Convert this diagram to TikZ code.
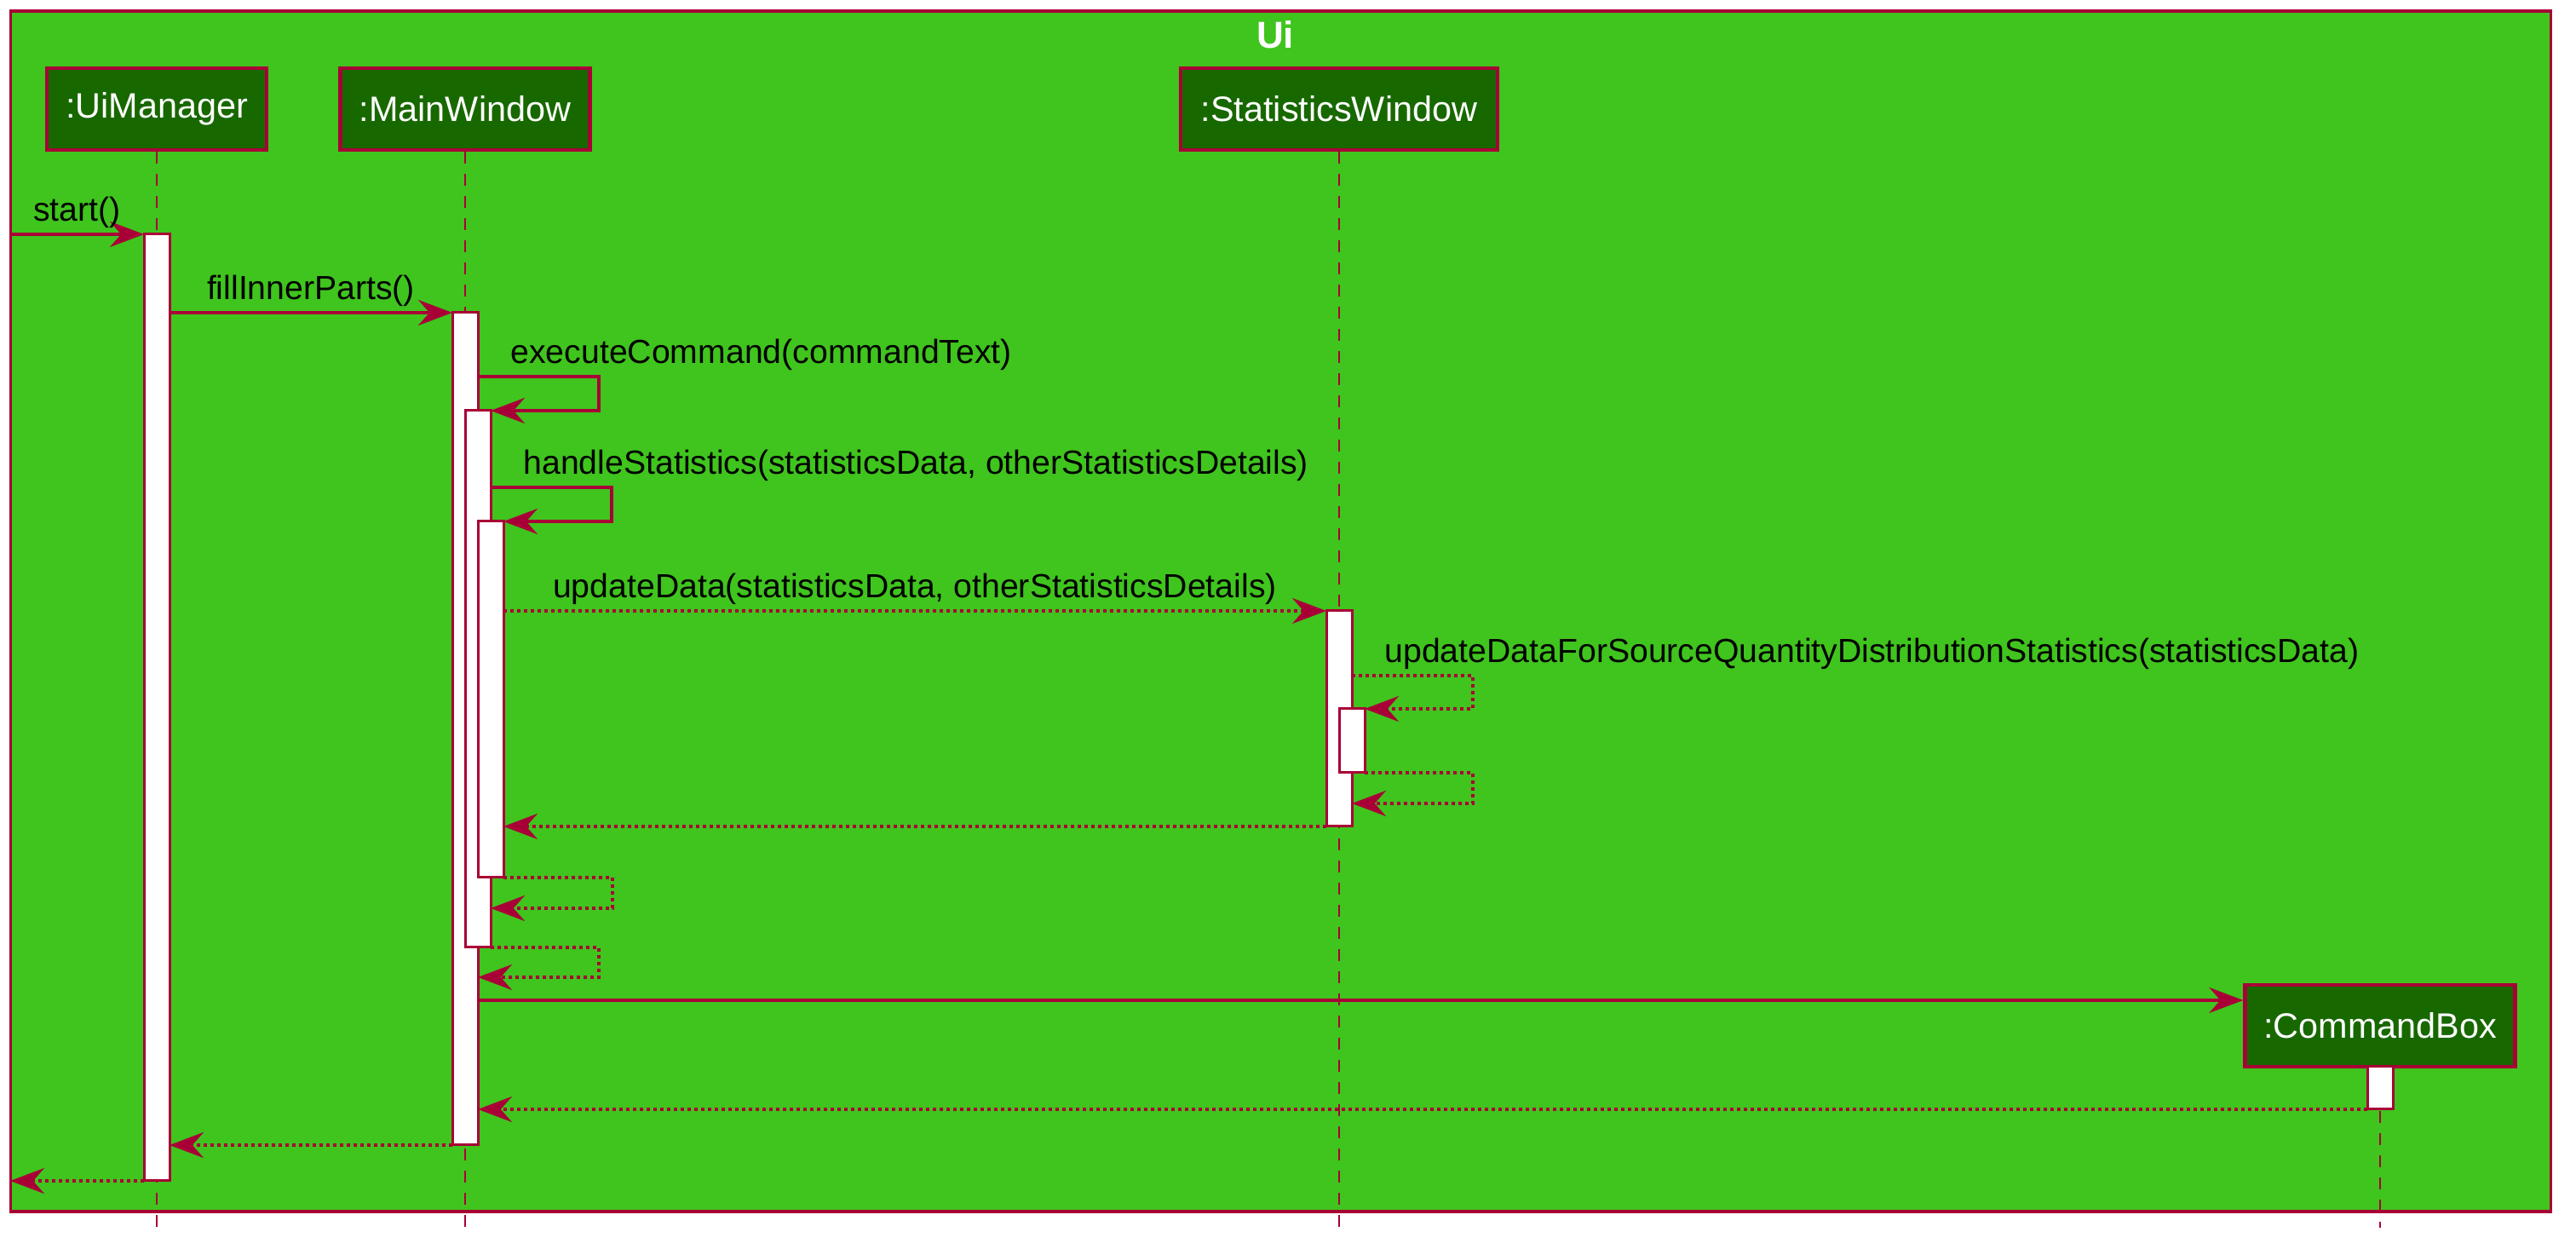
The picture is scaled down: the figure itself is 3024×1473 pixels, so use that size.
\documentclass[tikz,border=0pt]{standalone}
\usepackage{fontspec}
\setmainfont{Liberation Sans}
\usetikzlibrary{arrows.meta}
\definecolor{crim}{HTML}{A80036}
\definecolor{uigreen}{HTML}{40C41E}
\definecolor{pgreen}{HTML}{186800}
\begin{document}
\begin{tikzpicture}[x=0.25pt,y=-0.25pt,
  frm/.style={draw=crim,fill=uigreen,line width=0.8pt},
  part/.style={draw=crim,fill=pgreen,line width=1.1pt,text=white,
    font=\fontsize{10.35}{12}\selectfont,inner sep=0pt,minimum height=24pt},
  act/.style={draw=crim,fill=white,line width=0.75pt,minimum width=7.5pt,inner sep=0pt,outer sep=0pt},
  life/.style={draw=crim,line width=0.55pt,dash pattern=on 3.5pt off 3pt},
  msg/.style={draw=crim,line width=0.8pt,-{Stealth[length=10pt,width=7.5pt,inset=3.3pt]}},
  ret/.style={msg,dash pattern=on 1pt off 1pt},
  lbl/.style={font=\fontsize{9.8}{11}\selectfont,inner sep=0pt,anchor=base,text=black},
  slbl/.style={lbl,anchor=base west,pos=0,xshift=9.25pt,yshift=3.75pt}]
\useasboundingbox (0,0) rectangle (3024,1473);
\fill[white] (0,0) rectangle (3024,1473);
% frame
\node[frm,inner sep=0pt,minimum width=745.5pt,minimum height=352.25pt] (frame) at (1503.5,717.5) {};
\node[text=white,font=\fontsize{11}{13}\selectfont\bfseries,inner sep=0pt,anchor=base] (title) at (1497,57) {Ui};
\coordinate (inL) at (12,275);
\coordinate (outL) at (12,1386);
% participants
\node[part,minimum width=64.5pt] (U) at (184,128) {:UiManager};
\node[part,minimum width=73.25pt] (M) at (546,128) {:MainWindow};
\node[part,minimum width=93pt] (S) at (1572,128) {:StatisticsWindow};
% lifelines
\coordinate (Uend) at (184,1441);
\coordinate (Mend) at (546,1441);
\coordinate (Send) at (1572,1441);
\coordinate (Cend) at (2794,1441);
\draw[life] (U.south) -- (Uend);
\draw[life] (M.south) -- (Mend);
\draw[life] (S.south) -- (Send);
\draw[life] (2794,1252) -- (Cend);
\node[part,minimum width=79.25pt] (C) at (2794,1204) {:CommandBox};
% activations
\node[act,minimum height=277.75pt] (AU) at (184,830.5) {};
\node[act,minimum height=244.25pt] (AM1) at (546,855.5) {};
\node[act,minimum height=157.5pt] (AM2) at (561,797) {};
\node[act,minimum height=104.5pt] (AM3) at (576,821) {};
\node[act,minimum height=63.25pt] (AS1) at (1572,843.5) {};
\node[act,minimum height=18.75pt] (AS2) at (1587,869.5) {};
\node[act,minimum height=12.5pt] (AC) at (2794,1277) {};
% messages
\draw[msg] (inL) -- (AU.north west) node[lbl,midway,yshift=3.75pt] {start()};
\draw[msg] (AU.east |- AM1.north) -- (AM1.north west) node[lbl,midway,yshift=3.75pt] {fillInnerParts()};
\draw[msg] (AM1.east |- 0,442) -- (703,442) node[slbl] {executeCommand(commandText)} |- (AM2.north east);
\draw[msg] (AM2.east |- 0,572) -- (718,572) node[slbl] {handleStatistics(statisticsData, otherStatisticsDetails)} |- (AM3.north east);
\draw[ret] (AM3.east |- AS1.north) -- (AS1.north west) node[lbl,midway,yshift=3.75pt] {updateData(statisticsData, otherStatisticsDetails)};
\draw[ret] (AS1.east |- 0,793) -- (1729,793) node[slbl] {updateDataForSourceQuantityDistributionStatistics(statisticsData)} |- (AS2.north east);
\draw[ret] (AS2.south east) -- (1729,907) |- (AS1.east |- 0,943);
\draw[ret] (AS1.south west) -- (AM3.east |- AS1.south);
\draw[ret] (AM3.south east) -- (719,1030) |- (AM2.east |- 0,1066);
\draw[ret] (AM2.south east) -- (703,1112) |- (AM1.east |- 0,1147);
\draw[msg] (AM1.east |- 0,1174) -- (C.west |- 0,1174);
\draw[ret] (AC.south west) -- (AM1.east |- AC.south);
\draw[ret] (AM1.south west) -- (AU.east |- AM1.south);
\draw[ret] (AU.south west) -- (outL);
\end{tikzpicture}
\end{document}
